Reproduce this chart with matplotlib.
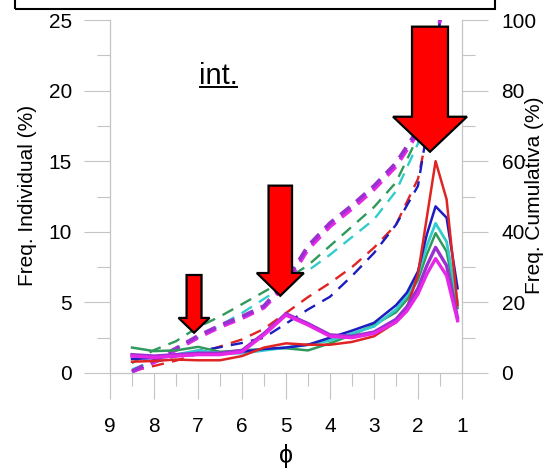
import matplotlib
matplotlib.use("Agg")
import matplotlib.pyplot as plt
from matplotlib.patches import Polygon, Rectangle
from matplotlib.lines import Line2D
from matplotlib.ticker import MultipleLocator

plt.rcParams['font.family'] = ['Liberation Sans', 'DejaVu Sans']

# individual frequency (%), left axis
phi_ind = [8.5, 8.0, 7.5, 7.0, 6.5, 6.0, 5.5, 5.0, 4.5, 4.0, 3.5, 3.0, 2.5, 2.25, 2.0, 1.8, 1.6, 1.35, 1.1]
green_ind = [1.8, 1.55, 1.6, 1.85, 1.5, 1.6, 1.7, 1.75, 1.6, 2.1, 2.7, 3.4, 4.3, 5.2, 6.6, 8.4, 9.9, 8.6, 4.6]
cyan_ind = [1.2, 1.1, 1.3, 1.6, 1.4, 1.4, 1.6, 1.8, 2.0, 2.3, 2.8, 3.3, 4.5, 5.5, 7.0, 9.0, 10.6, 9.3, 5.0]
blue_ind = [1.0, 1.05, 1.2, 1.3, 1.4, 1.5, 1.7, 1.8, 2.0, 2.5, 3.0, 3.55, 4.8, 5.7, 7.2, 9.8, 11.8, 11.0, 6.0]
red_ind = [0.8, 0.85, 0.95, 0.9, 0.9, 1.2, 1.8, 2.1, 2.0, 2.0, 2.2, 2.6, 3.6, 4.6, 7.0, 11.0, 15.0, 12.3, 4.8]
purple_ind = [1.3, 1.2, 1.3, 1.4, 1.4, 1.6, 2.8, 4.2, 3.5, 2.7, 2.6, 2.9, 3.8, 4.7, 6.0, 7.6, 8.9, 7.6, 3.9]
magenta_ind = [1.2, 1.1, 1.2, 1.3, 1.3, 1.5, 2.7, 4.1, 3.4, 2.6, 2.5, 2.8, 3.6, 4.4, 5.6, 7.0, 8.1, 6.9, 3.7]

# cumulative frequency (%), right axis
phi_cum = [8.5, 8.0, 7.5, 7.0, 6.5, 6.0, 5.5, 5.0, 4.5, 4.0, 3.5, 3.0, 2.5, 2.0, 1.75, 1.5]
green_cum = [2.8, 6.5, 9.0, 13.0, 16.0, 19.5, 23.0, 26.5, 30.5, 36.0, 41.5, 47.0, 54.0, 67.0, 82.0, 100]
cyan_cum = [1.0, 3.5, 7.0, 10.0, 13.5, 17.0, 21.0, 25.0, 29.0, 33.5, 38.5, 43.5, 51.5, 65.0, 80.0, 100]
blue_cum = [0.3, 3.0, 4.8, 6.2, 7.3, 8.5, 10.0, 14.0, 18.0, 21.6, 27.5, 34.0, 42.0, 53.0, 72.0, 100]
red_cum = [0.5, 2.0, 3.5, 5.5, 7.5, 9.5, 12.5, 17.0, 21.5, 25.5, 30.0, 35.5, 42.0, 55.0, 70.0, 100]
purple_cum = [0.5, 3.5, 7.0, 10.5, 13.5, 16.0, 19.0, 26.0, 36.0, 42.5, 47.5, 53.0, 59.5, 69.0, 83.0, 100]
magenta_cum = [0.3, 3.0, 6.5, 10.0, 13.0, 15.5, 18.5, 25.0, 35.0, 41.5, 46.5, 52.0, 58.5, 68.0, 82.5, 100]

# arrows: centre phi, top, head base, tip (left axis units), shaft / head half widths (phi)
arrows = [
    (7.09, 6.94, 3.90, 2.85, 0.17, 0.352),
    (5.13, 13.27, 7.08, 5.47, 0.267, 0.534),
    (1.727, 24.53, 18.15, 15.67, 0.409, 0.84),
]

c_green = '#2f9a5c'
c_cyan = '#33cccc'
c_blue = '#1c1cc0'
c_red = '#e02424'
c_purple = '#9a30d0'
c_magenta = '#e628e6'
grey = '#c4c4c4'

fig = plt.figure(figsize=(5.43, 4.71), dpi=100)
ax = fig.add_axes([0.2026, 0.2081, 0.6482, 0.7494])
ax2 = ax.twinx()
ax2.set_position([0.2026, 0.2081, 0.6482, 0.7494])


def dash(lw):
    # ~12 px on, 8 px off regardless of width
    return (8.8 / lw, 6.0 / lw)


cum = [(green_cum, c_green, 1.7), (cyan_cum, c_cyan, 1.7), (red_cum, c_red, 1.7),
       (blue_cum, c_blue, 1.7), (magenta_cum, c_magenta, 2.7), (purple_cum, c_purple, 2.7)]
for vals, col, lw in cum:
    ax2.plot(phi_cum, vals, color=col, lw=lw, dashes=dash(lw), zorder=2)

ind = [(green_ind, c_green, 1.8), (cyan_ind, c_cyan, 2.0), (blue_ind, c_blue, 1.8),
       (red_ind, c_red, 1.8), (purple_ind, c_purple, 2.4), (magenta_ind, c_magenta, 2.4)]
for vals, col, lw in ind:
    ax.plot(phi_ind, vals, color=col, lw=lw, zorder=3)

ax.set_zorder(ax2.get_zorder() + 1)
ax.patch.set_visible(False)

ax.set_xlim(9, 1)
ax.set_ylim(0, 25)
ax2.set_ylim(0, 100)

for a in (ax, ax2):
    for s in a.spines.values():
        s.set_color(grey)
        s.set_linewidth(0.8)
    a.spines['top'].set_visible(False)

ax.xaxis.set_major_locator(MultipleLocator(1))
ax.xaxis.set_minor_locator(MultipleLocator(0.5))
ax.yaxis.set_major_locator(MultipleLocator(5))
ax.yaxis.set_minor_locator(MultipleLocator(2.5))
ax2.yaxis.set_major_locator(MultipleLocator(20))
ax2.yaxis.set_minor_locator(MultipleLocator(10))

ax.tick_params(axis='both', which='major', direction='out', length=18.5, width=0.8,
               color=grey, labelsize=15, pad=9)
ax.tick_params(axis='both', which='minor', direction='out', length=9.5, width=0.8, color=grey)
ax.tick_params(axis='x', which='major', pad=13)
ax2.tick_params(axis='y', which='major', direction='out', length=18.5, width=0.8,
                color=grey, labelsize=15, pad=10)
ax2.tick_params(axis='y', which='minor', direction='out', length=9.5, width=0.8, color=grey)

ax.set_xlabel('ϕ', fontsize=18, labelpad=6)
fig.text(28 / 543, 0.585, 'Freq. Individual (%)', rotation=90, fontsize=15,
         ha='center', va='center')
fig.text(534 / 543, 0.585, 'Freq. Cumulativa (%)', rotation=90, fontsize=15,
         ha='center', va='center')

t = ax.text(6.53, 20.45, 'int.', fontsize=21, ha='center', va='baseline')
fig.canvas.draw()
bb = t.get_window_extent(fig.canvas.get_renderer()).transformed(fig.transFigure.inverted())
uy = bb.y0 + 3.5 / 471
fig.add_artist(Line2D([bb.x0 + 1 / 543, bb.x1 - 1 / 543], [uy, uy], color='black', lw=1.4))

for cx, top, base, tip, sw, hw in arrows:
    pts = [(cx - sw, top), (cx + sw, top), (cx + sw, base), (cx + hw, base),
           (cx, tip), (cx - hw, base), (cx - sw, base)]
    ax.add_patch(Polygon(pts, closed=True, facecolor='#ff0000', edgecolor='black',
                         lw=1.6, zorder=10, clip_on=False))

# frame of the (cut off) legend box above the plot
fig.add_artist(Rectangle((15 / 543, 1 - 9 / 471), 480 / 543, 0.2, fill=False,
                         edgecolor='black', lw=1.5, transform=fig.transFigure))

fig.savefig('out.png', dpi=100)
